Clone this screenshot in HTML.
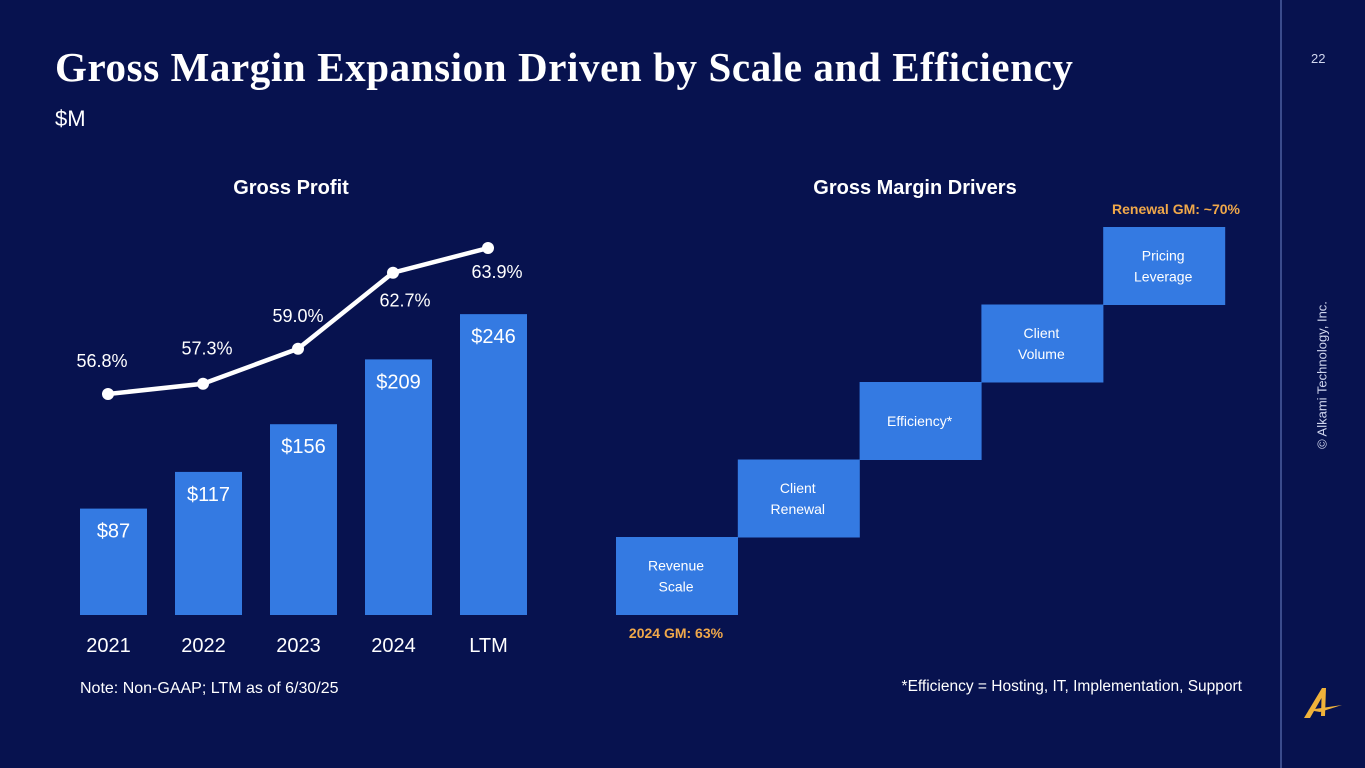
<!DOCTYPE html>
<html><head><meta charset="utf-8">
<style>
html,body{margin:0;padding:0}
body{width:1365px;height:768px;background:#07124f;position:relative;overflow:hidden;font-family:"Liberation Sans",sans-serif;color:#fff}
.abs{position:absolute}
</style></head>
<body>
<div class="abs" style="left:55px;top:43px;font-family:'Liberation Serif',serif;font-weight:bold;font-size:41px;white-space:nowrap;letter-spacing:0.6px">Gross Margin Expansion Driven by Scale and Efficiency</div>
<div class="abs" style="left:55px;top:106px;font-size:22px">$M</div>
<div class="abs" style="left:1311px;top:51px;font-size:13px;color:#d0d6ee">22</div>
<div class="abs" style="left:1280px;top:0;width:2px;height:768px;background:#3a4b8c"></div>
<div class="abs" style="left:1322px;top:375px;transform:translate(-50%,-50%) rotate(-90deg);font-size:13px;color:#d0d6ee;white-space:nowrap">© Alkami Technology, Inc.</div>
<svg class="abs" style="left:1300px;top:680px" width="45" height="42" viewBox="0 0 45 42"><path d="M4 38 L22 8 L26 8 L25 36 L21 36 L21.5 18 L10 38 Z" fill="#f0b23a"/><path d="M8 30 L42 25 L20 32 Z" fill="#f0b23a"/></svg>

<svg class="abs" style="left:0;top:0" width="1280" height="768">
<text x="291" y="194" text-anchor="middle" font-size="20" font-weight="bold" fill="#fff">Gross Profit</text>
<text x="915" y="194" text-anchor="middle" font-size="20" font-weight="bold" fill="#fff">Gross Margin Drivers</text>
<g id="bars"></g><g id="line"></g><g id="steps"></g>
<text x="80" y="693" font-size="16" fill="#fff">Note: Non-GAAP; LTM as of 6/30/25</text>
<text x="1242" y="691" text-anchor="end" font-size="15.5" fill="#fff">*Efficiency = Hosting, IT, Implementation, Support</text>
<text x="1176" y="214" text-anchor="middle" font-size="14" font-weight="bold" fill="#f0a84a">Renewal GM: ~70%</text>
<text x="676" y="638" text-anchor="middle" font-size="14" font-weight="bold" fill="#f0a84a">2024 GM: 63%</text>
</svg>
<script>
const categories=["2021","2022","2023","2024","LTM"];
const grossProfit=[87,117,156,209,246];
const grossMargin=[56.8,57.3,59.0,62.7,63.9];
const barLabels=["$87","$117","$156","$209","$246"];
const marginLabels=["56.8%","57.3%","59.0%","62.7%","63.9%"];
const drivers=[["Revenue","Scale"],["Client","Renewal"],["Efficiency*"],["Client","Volume"],["Pricing","Leverage"]];
const NS="http://www.w3.org/2000/svg";
function mk(t,a,p){const e=document.createElementNS(NS,t);for(const k in a)e.setAttribute(k,a[k]);p.appendChild(e);return e;}
const xC=i=>113.5+i*95, yBar=v=>615-v*1.223, yLine=v=>394-(v-56.8)*20.56;
const gb=document.getElementById('bars');
grossProfit.forEach((v,i)=>{
 const r=mk('rect',{x:xC(i)-33.5,y:yBar(v),width:67,height:615-yBar(v),fill:'#347ae2'},gb);
 
 
 const t=mk('text',{x:xC(i),y:yBar(v)+29,'text-anchor':'middle','font-size':20,fill:'#fff'},gb);t.textContent=barLabels[i];
 
 
 const c=mk('text',{x:xC(i)-5,y:652,'text-anchor':'middle','font-size':20,fill:'#fff'},gb);c.textContent=categories[i];
 
 
});
const gl=document.getElementById('line');
const lx=i=>xC(i)-5.5;
const pl=mk('polyline',{points:grossMargin.map((v,i)=>lx(i)+','+yLine(v)).join(' '),fill:'none',stroke:'#fff','stroke-width':4.5,'stroke-linejoin':'round'},gl);


const offs=[[-6,-27],[4,-29],[0,-27],[12,34],[9,30]];
grossMargin.forEach((v,i)=>{
 const c=mk('circle',{cx:lx(i),cy:yLine(v),r:6,fill:'#fff'},gl);
 
 
 const t=mk('text',{x:lx(i)+offs[i][0],y:yLine(v)+offs[i][1],'text-anchor':'middle','font-size':18,fill:'#fff'},gl);t.textContent=marginLabels[i];
 
 
});
const gs=document.getElementById('steps');
drivers.forEach((lines,i)=>{
 const x=616+i*121.8,y=537-i*77.5;
 const r=mk('rect',{x:x,y:y,width:122,height:78,fill:'#347ae2'},gs);
 
 
 lines.forEach((s,j)=>{
  const t=mk('text',{x:x+60,y:y+44+(j-(lines.length-1)/2)*21,'text-anchor':'middle','font-size':14,fill:'#fff'},gs);t.textContent=s;
  
  
 });
});
</script>
</body></html>
